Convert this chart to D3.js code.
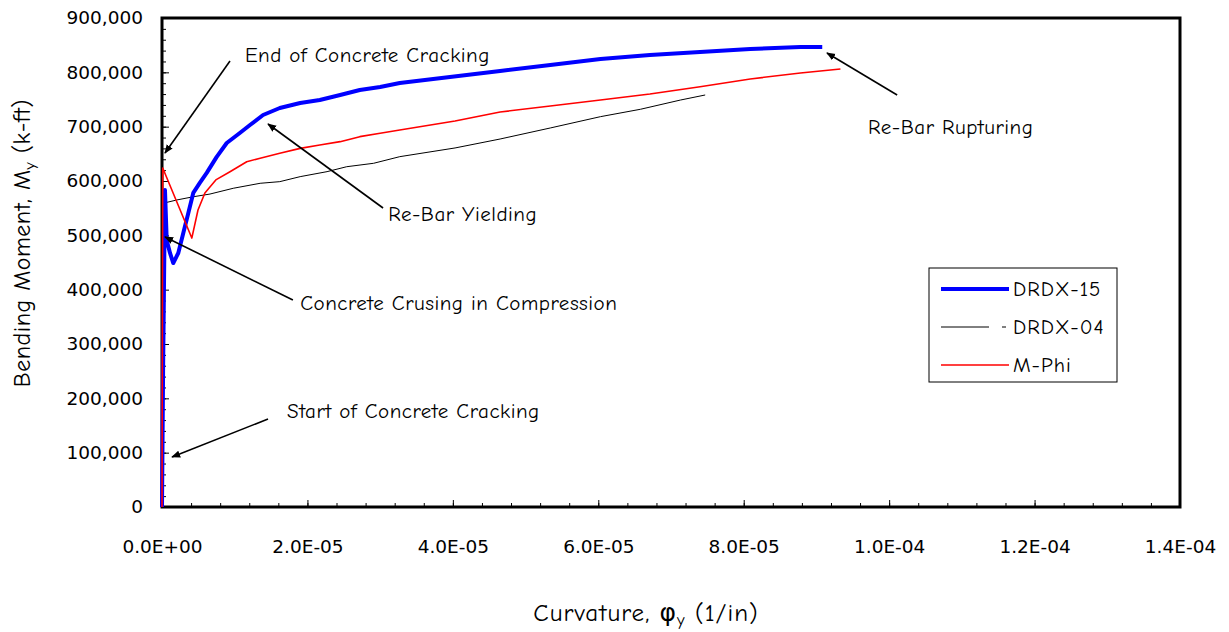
<!DOCTYPE html>
<html>
<head>
<meta charset="utf-8">
<script src="https://cdn.jsdelivr.net/npm/d3@7"></script>
<style>
  body { margin: 0; background: #fff; }
  .comic { font-family: "Comic Sans MS", "Comic Neue", "DejaVu Sans", sans-serif; }
  .tick text { font-family: "DejaVu Sans", Verdana, sans-serif; }
</style>
</head>
<body>
<div id="chart"></div>
<script>
// curvature (1/in), moment (k-ft)
const drdx15 = [
  [0, 0], [1.5e-7, 250000], [4.1e-7, 583500], [6.5e-7, 491000], [1.1e-6, 467500],
  [1.55e-6, 449000], [2.24e-6, 467500], [2.93e-6, 504300], [3.62e-6, 541000],
  [4.3e-6, 578000], [5.2e-6, 596500], [6.15e-6, 615000], [7.5e-6, 644000],
  [8.9e-6, 670000], [1.07e-5, 688400], [1.21e-5, 703000], [1.39e-5, 721500],
  [1.62e-5, 734400], [1.9e-5, 743600], [2.17e-5, 749000], [2.45e-5, 758300],
  [2.72e-5, 767500], [3.0e-5, 773000], [3.27e-5, 780400], [3.96e-5, 791500],
  [4.65e-5, 802500], [5.34e-5, 813500], [6.03e-5, 824600], [6.71e-5, 832000],
  [7.4e-5, 837500], [8.09e-5, 843000], [8.78e-5, 846700], [9.08e-5, 846700]
];
const drdx04 = [
  [0, 0], [1.4e-7, 559000], [2.0e-6, 565000], [4.3e-6, 571000], [6.6e-6, 576000],
  [9.8e-6, 586600], [1.35e-5, 595800], [1.62e-5, 598800], [1.9e-5, 608000],
  [2.27e-5, 617200], [2.54e-5, 626300], [2.91e-5, 632600], [3.27e-5, 644800],
  [4.03e-5, 660800], [4.65e-5, 677300], [5.34e-5, 697600], [6.03e-5, 718400],
  [6.58e-5, 732000], [7.13e-5, 749000], [7.47e-5, 758300]
];
const mPhi = [
  [0, 0], [1e-7, 624000], [4.1e-6, 495000], [4.95e-6, 546600], [5.9e-6, 578000],
  [7.4e-6, 602000], [9.35e-6, 617000], [1.165e-5, 635500], [1.35e-5, 642000],
  [1.62e-5, 651000], [1.9e-5, 660000], [2.17e-5, 666300], [2.45e-5, 672400],
  [2.72e-5, 681600], [3.0e-5, 687800], [3.27e-5, 694000], [4.03e-5, 710500],
  [4.65e-5, 727000], [5.34e-5, 738000], [6.03e-5, 749000], [6.71e-5, 760000],
  [7.4e-5, 773600], [8.09e-5, 787800], [8.78e-5, 798800], [9.33e-5, 806200]
];

const seriesNames = ["DRDX-15", "DRDX-04", "M-Phi"];
const seriesColors = ["#0000ff", "#000000", "#ff0000"];
const seriesWidths = [4, 1, 1.6];
const seriesData = [drdx15, drdx04, mPhi];

const xTicks = [0, 2e-5, 4e-5, 6e-5, 8e-5, 1e-4, 1.2e-4, 1.4e-4];
const yTicks = [0, 100000, 200000, 300000, 400000, 500000, 600000, 700000, 800000, 900000];

// text anchor, arrow start, arrow tip (data units)
const notes = [
  { text: "End of Concrete Cracking", at: [1.14e-5, 832000], from: [9.35e-6, 820900], to: [4.1e-7, 651500] },
  { text: "Re-Bar Yielding", at: [3.11e-5, 539300], from: [3.04e-5, 550300], to: [1.458e-5, 704900] },
  { text: "Concrete Crusing in Compression", at: [1.9e-5, 375500], from: [1.8e-5, 381000], to: [4.1e-7, 497000] },
  { text: "Start of Concrete Cracking", at: [1.72e-5, 176700], from: [1.458e-5, 162000], to: [1.38e-6, 92000] },
  { text: "Re-Bar Rupturing", at: [9.71e-5, 699400], from: [1.011e-4, 758300], to: [9.145e-5, 835600] }
];

const width = 1229, height = 632;
const plotL = 162, plotR = 1180, plotT = 18, plotB = 507;

const svg = d3.select("#chart").append("svg")
  .attr("width", width).attr("height", height);

const x = d3.scaleLinear().domain([0, 1.4e-4]).range([plotL, plotR]);
const y = d3.scaleLinear().domain([0, 900000]).range([plotB, plotT]);

function sci(v) {
  if (v === 0) return "0.0E+00";
  const [m, e] = v.toExponential(1).split("e");
  const n = Math.abs(+e);
  return m + "E" + (+e < 0 ? "-" : "+") + (n < 10 ? "0" : "") + n;
}

// minor ticks
const xMinor = d3.range(0, 1.4e-4 + 1e-9, 4e-6);
const yMinor = d3.range(0, 900001, 20000);

svg.append("g").attr("transform", `translate(0,${plotB})`)
  .call(d3.axisBottom(x).tickValues(xMinor).tickSize(-4).tickFormat(""))
  .call(g => g.select(".domain").remove())
  .selectAll("line").attr("stroke", "#000");
svg.append("g").attr("transform", `translate(${plotL},0)`)
  .call(d3.axisLeft(y).tickValues(yMinor).tickSize(-4).tickFormat(""))
  .call(g => g.select(".domain").remove())
  .selectAll("line").attr("stroke", "#000");

const xAxis = svg.append("g").attr("transform", `translate(0,${plotB})`)
  .call(d3.axisBottom(x).tickValues(xTicks).tickSize(-7).tickPadding(33).tickFormat(sci));
xAxis.select(".domain").remove();
xAxis.selectAll("text").attr("font-size", 18.5).attr("fill", "#000");

const yAxis = svg.append("g").attr("transform", `translate(${plotL},0)`)
  .call(d3.axisLeft(y).tickValues(yTicks).tickSize(-7).tickPadding(19).tickFormat(d3.format(",")));
yAxis.select(".domain").remove();
yAxis.selectAll("text").attr("font-size", 18.5).attr("fill", "#000");

// plot frame
svg.append("rect")
  .attr("x", plotL).attr("y", plotT)
  .attr("width", plotR - plotL).attr("height", plotB - plotT)
  .attr("fill", "none").attr("stroke", "#000").attr("stroke-width", 3);

const line = d3.line().x(d => x(d[0])).y(d => y(d[1]));

// black first, then blue, red on top
[1, 0, 2].forEach(i => {
  svg.append("path")
    .datum(seriesData[i])
    .attr("fill", "none")
    .attr("stroke", seriesColors[i])
    .attr("stroke-width", seriesWidths[i])
    .attr("stroke-linejoin", "round")
    .attr("d", line);
});

// arrows
svg.append("defs").append("marker")
  .attr("id", "arrow")
  .attr("viewBox", "0 0 10 10")
  .attr("refX", 9).attr("refY", 5)
  .attr("markerWidth", 9).attr("markerHeight", 9)
  .attr("markerUnits", "userSpaceOnUse")
  .attr("orient", "auto")
  .append("path").attr("d", "M0,1 L10,5 L0,9 Z").attr("fill", "#000");

svg.append("g").selectAll("line")
  .data(notes).join("line")
  .attr("x1", d => x(d.from[0])).attr("y1", d => y(d.from[1]))
  .attr("x2", d => x(d.to[0])).attr("y2", d => y(d.to[1]))
  .attr("stroke", "#000").attr("stroke-width", 1.6)
  .attr("marker-end", "url(#arrow)");

svg.append("g").selectAll("text")
  .data(notes).join("text")
  .attr("class", "comic")
  .attr("x", d => x(d.at[0])).attr("y", d => y(d.at[1]))
  .attr("dy", "0.35em")
  .attr("font-size", 21)
  .attr("letter-spacing", 0.5)
  .text(d => d.text);

// legend
const lg = svg.append("g").attr("transform", "translate(929,268)");
lg.append("rect").attr("width", 188).attr("height", 114)
  .attr("fill", "#fff").attr("stroke", "#000").attr("stroke-width", 1);
const item = lg.selectAll("g.item").data(seriesNames).join("g")
  .attr("class", "item")
  .attr("transform", (d, i) => `translate(0,${21 + i * 38})`);
item.append("line")
  .attr("x1", 12).attr("x2", (d, i) => i === 1 ? 60 : 80)
  .attr("stroke", (d, i) => seriesColors[i])
  .attr("stroke-width", (d, i) => seriesWidths[i]);
lg.append("line").attr("x1", 73).attr("x2", 77).attr("y1", 59).attr("y2", 59)
  .attr("stroke", "#000").attr("stroke-width", 1);
item.append("text")
  .attr("class", "comic")
  .attr("x", 84).attr("dy", "0.35em")
  .attr("font-size", 21)
  .attr("letter-spacing", 1)
  .text(d => d);

// axis titles
const yt = svg.append("text")
  .attr("class", "comic")
  .attr("transform", `translate(30,${243}) rotate(-90)`)
  .attr("text-anchor", "middle")
  .attr("font-size", 24)
  .attr("letter-spacing", 0.5);
yt.append("tspan").text("Bending Moment, M");
yt.append("tspan").attr("font-size", 16).attr("dy", 5).text("y");
yt.append("tspan").attr("dy", -5).text(" (k-ft)");

const xt = svg.append("text")
  .attr("class", "comic")
  .attr("x", 646).attr("y", 621)
  .attr("text-anchor", "middle")
  .attr("font-size", 25)
  .attr("letter-spacing", 1);
xt.append("tspan").text("Curvature, \u03c6");
xt.append("tspan").attr("font-size", 17).attr("dy", 5).text("y");
xt.append("tspan").attr("dy", -5).text(" (1/in)");
</script>
</body>
</html>
